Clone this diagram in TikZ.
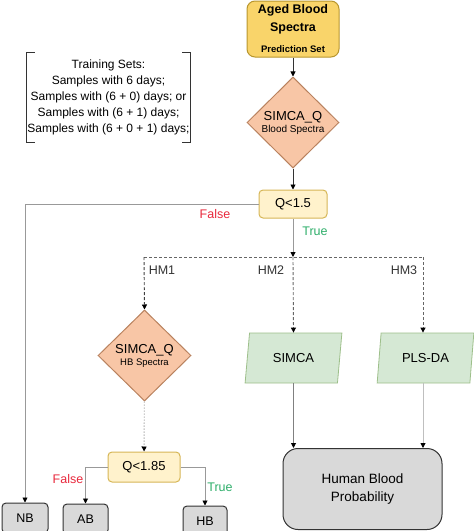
\documentclass[tikz,border=0pt]{standalone}
\usepackage{fontspec}
\setmainfont{Liberation Sans}
\usetikzlibrary{positioning,shapes.geometric,arrows.meta}

\definecolor{agedfill}{HTML}{F9D46A}
\definecolor{agedline}{HTML}{B8962E}
\definecolor{diafill}{HTML}{F8C6A6}
\definecolor{dialine}{HTML}{B9825F}
\definecolor{qfill}{HTML}{FFF2CC}
\definecolor{qline}{HTML}{D6B656}
\definecolor{parafill}{HTML}{D5E8D4}
\definecolor{paraline}{HTML}{9DBF8A}
\definecolor{endfill}{HTML}{D9D9D9}
\definecolor{endline}{HTML}{333333}
\definecolor{falsered}{HTML}{E8283C}
\definecolor{truegreen}{HTML}{2EAE6A}

\tikzset{
  base/.style={draw, align=center, inner sep=1pt, line width=1pt},
  startbox/.style={base, rounded corners=8pt, fill=agedfill, draw=agedline,
    minimum width=92pt, minimum height=56pt},
  decide/.style={base, diamond, fill=diafill, draw=dialine, inner sep=0pt,
    minimum width=92pt, minimum height=91pt},
  qbox/.style={base, rounded corners=4pt, fill=qfill, draw=qline,
    font=\fontsize{13}{15}\selectfont},
  modelbox/.style={base, trapezium, trapezium left angle=79, trapezium right angle=101,
    trapezium stretches=true, fill=parafill, draw=paraline, line width=0.8pt,
    minimum width=97pt, minimum height=50pt, font=\fontsize{13}{15}\selectfont},
  endbox/.style={base, rounded corners=4pt, fill=endfill, draw=endline,
    minimum height=30pt, font=\fontsize{12.5}{15}\selectfont},
  lab/.style={font=\fontsize{12.5}{15}\selectfont, inner sep=0pt},
  flow/.style={-{Triangle[length=5pt,width=5pt,color=black]}, line width=0.9pt},
  sub/.style={font=\fontsize{10}{12}\selectfont}
}

\begin{document}
\begin{tikzpicture}[x=1pt,y=-1pt]
    \useasboundingbox (0,0) rectangle (474,531);

    % training sets
    \node[align=center, inner sep=0pt, minimum width=163pt, minimum height=90pt,
          font=\fontsize{12}{16}\selectfont] (train) at (108.5,97.5)
        {Training Sets:\\ Samples with 6 days;\\ Samples with (6 + 0) days; or\\
         Samples with (6 + 1) days;\\ Samples with (6 + 0 + 1) days;};
    \draw[draw=endline, line width=0.7pt] ([xshift=8pt]train.north west) -- (train.north west)
        -- (train.south west) -- ([xshift=8pt]train.south west);
    \draw[draw=endline, line width=0.7pt] ([xshift=-8pt]train.north east) -- (train.north east)
        -- (train.south east) -- ([xshift=-8pt]train.south east);

    % main column
    \node[startbox, font=\fontsize{12.5}{18}\selectfont\bfseries] (aged) at (293,29)
        {Aged Blood\\ Spectra\\[3pt] {\fontsize{9.5}{11}\selectfont Prediction Set}};
    \node[decide] (dia1) at (293,122.5)
        {\fontsize{13}{15}\selectfont SIMCA\_Q\\ {\fontsize{10}{12}\selectfont Blood Spectra}};
    \node[qbox, minimum width=68pt, minimum height=28pt] (q1) at (293,204) {Q<1.5};

    \coordinate (split) at (293,257);
    \coordinate (left) at (144,257);
    \coordinate (right) at (423,257);

    % branches
    \node[decide, minimum width=93pt] (dia2) at (144.5,355.5)
        {\fontsize{13}{15}\selectfont SIMCA\_Q\\ {\fontsize{9.5}{12}\selectfont HB Spectra}};
    \node[qbox, minimum width=72pt, minimum height=30pt] (q2) at (144,467) {Q<1.85};
    \node[modelbox] (simca) at (293.5,358) {SIMCA};
    \node[modelbox] (pls) at (425.5,358) {PLS-DA};

    \node[endbox, minimum width=46pt] (nb) at (25,518) {NB};
    \node[endbox, minimum width=45pt] (ab) at (85.5,519) {AB};
    \node[endbox, minimum width=44pt] (hb) at (205,521) {HB};
    \node[base, rounded corners=15pt, fill=endfill, draw=endline, minimum width=159pt,
          minimum height=81pt, font=\fontsize{13.5}{18}\selectfont] (hbp) at (362.5,489)
        {Human Blood\\ Probability};

    % arrows
    \draw[flow, draw=endline] (aged) -- (dia1);
    \draw[flow, draw=endline] (dia1) -- (q1);
    \draw[flow, draw=black!40] (q1.west) -| (nb.north);
    \draw[flow, draw=black!40] (q1.south) -- (split);
    \draw[draw=black!60, line width=0.8pt, dash pattern=on 3pt off 2pt] (left) -- (right);
    \draw[flow, draw=black!75, dash pattern=on 3pt off 2pt] (left) -- (dia2.north);
    \draw[flow, draw=black!60, dash pattern=on 3pt off 2pt] (split) -- (simca.north);
    \draw[flow, draw=black!60, dash pattern=on 3pt off 2pt] (right) -- (right |- pls.north);
    \draw[flow, draw=black!30, dash pattern=on 1.5pt off 1.5pt] (dia2) -- (q2);
    \draw[flow, draw=black!40] (q2.west) -| (ab.north);
    \draw[flow, draw=black!40] (q2.east) -| (hb.north);
    \draw[flow, draw=black!50] (simca.south) -- (simca.south |- hbp.north);
    \draw[flow, draw=black!25] (right |- pls.south) -- (right |- hbp.north);

    % labels
    \node[lab, text=falsered] (f1) at (215,214) {False};
    \node[lab, text=truegreen] (t1) at (315,231) {True};
    \node[lab, text=black!80] (hm1) at (162,270) {HM1};
    \node[lab, text=black!80] (hm2) at (271,270) {HM2};
    \node[lab, text=black!80] (hm3) at (404,270) {HM3};
    \node[lab, text=falsered] (f2) at (68,479) {False};
    \node[lab, text=truegreen] (t2) at (220,487) {True};
\end{tikzpicture}
\end{document}
